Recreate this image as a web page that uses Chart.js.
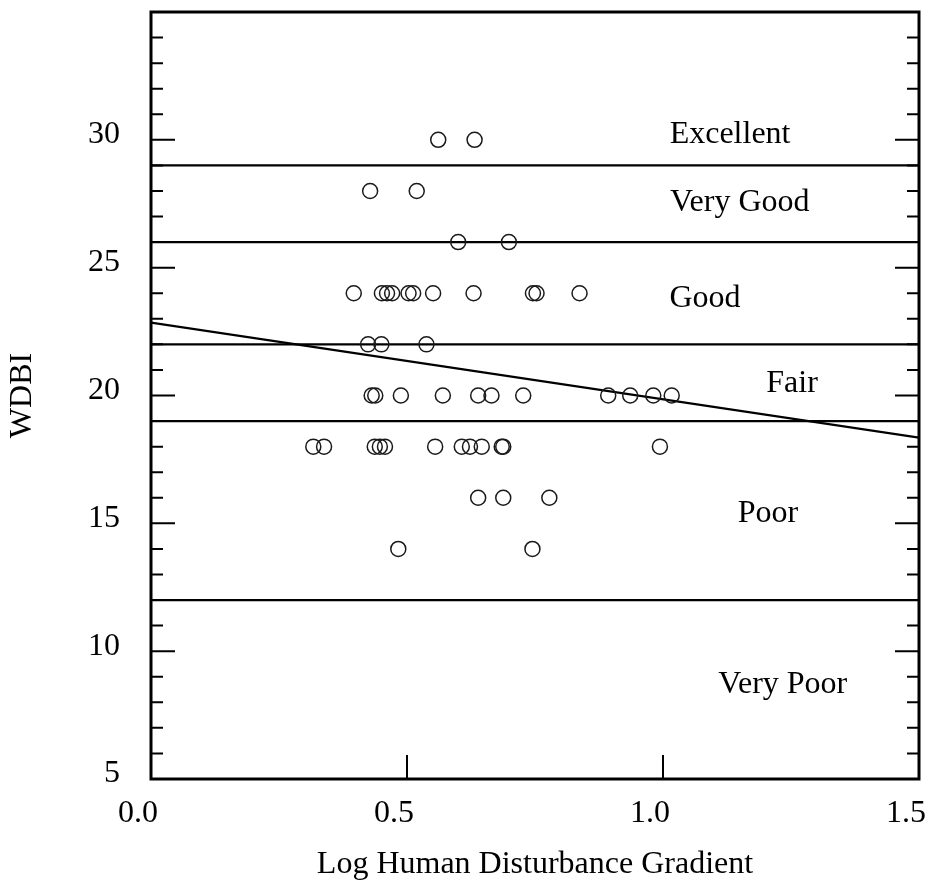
<!DOCTYPE html>
<html>
<head>
<meta charset="utf-8">
<script src="https://cdn.jsdelivr.net/npm/chart.js@4"></script>
<style>
  body { margin: 0; background: #fff; }
  .box { width: 929px; height: 884px; }
</style>
</head>
<body>
<div class="box"><canvas id="chart"></canvas></div>
<script>
// sites: log human disturbance gradient vs WDBI score
const logHdg = [
  0.561, 0.632,
  0.428, 0.519,
  0.600, 0.699,
  0.396, 0.451, 0.461, 0.471, 0.503, 0.512, 0.551, 0.630, 0.746, 0.753, 0.837,
  0.424, 0.450, 0.538,
  0.431, 0.438, 0.488, 0.570, 0.639, 0.665, 0.727, 0.893, 0.936, 0.981, 1.017,
  0.317, 0.338, 0.437, 0.447, 0.457, 0.555, 0.607, 0.623, 0.646, 0.685, 0.688, 0.994,
  0.639, 0.688, 0.778,
  0.483, 0.745
];
const wdbi = [
  30, 30,
  28, 28,
  26, 26,
  24, 24, 24, 24, 24, 24, 24, 24, 24, 24, 24,
  22, 22, 22,
  20, 20, 20, 20, 20, 20, 20, 20, 20, 20, 20,
  18, 18, 18, 18, 18, 18, 18, 18, 18, 18, 18, 18,
  16, 16, 16,
  14, 14
];

// regression line end points
const fitX = [0, 1.5];
const fitY = [22.85, 18.35];

// class boundaries and names
const bandLimits = [29, 26, 22, 19, 12];
const bandNames = ['Excellent', 'Very Good', 'Good', 'Fair', 'Poor', 'Very Poor'];

const xTickLabels = ['0.0', '0.5', '1.0', '1.5'];
const yTickLabels = ['5', '10', '15', '20', '25', '30'];

const font = { family: '"Liberation Serif", "Times New Roman", serif', size: 32 };

// where the class names sit (data coords)
const namePos = [[1.131, 30.2], [1.15, 27.55], [1.082, 23.8], [1.252, 20.45], [1.205, 15.4], [1.234, 8.7]];

const frame = {
  id: 'frame',
  afterDatasetsDraw(chart) {
    const { ctx, chartArea: a, scales: { x, y } } = chart;
    ctx.save();
    ctx.strokeStyle = '#000';
    ctx.lineWidth = 2;
    ctx.beginPath();
    for (let v = 6; v < 35; v++) {
      const py = y.getPixelForValue(v);
      const len = v % 5 === 0 ? 24 : 12;
      ctx.moveTo(a.left, py); ctx.lineTo(a.left + len, py);
      ctx.moveTo(a.right, py); ctx.lineTo(a.right - len, py);
    }
    [0.5, 1.0].forEach(v => {
      const px = x.getPixelForValue(v);
      ctx.moveTo(px, a.bottom); ctx.lineTo(px, a.bottom - 24);
    });
    ctx.stroke();
    ctx.lineWidth = 3;
    ctx.strokeRect(a.left, a.top, a.right - a.left, a.bottom - a.top);

    ctx.fillStyle = '#000';
    ctx.font = font.size + 'px ' + font.family;
    ctx.textAlign = 'center';
    ctx.textBaseline = 'middle';
    bandNames.forEach((t, i) => {
      ctx.fillText(t, x.getPixelForValue(namePos[i][0]), y.getPixelForValue(namePos[i][1]));
    });
    ctx.restore();
  }
};

const hLine = v => ({
  type: 'line',
  data: [{ x: 0, y: v }, { x: 1.5, y: v }],
  showLine: true,
  borderColor: '#000',
  borderWidth: 2.2,
  pointRadius: 0
});

new Chart(document.getElementById('chart'), {
  type: 'scatter',
  data: {
    datasets: [
      {
        data: logHdg.map((v, i) => ({ x: v, y: wdbi[i] })),
        pointStyle: 'circle',
        pointRadius: 7.5,
        borderColor: '#1a1a1a',
        borderWidth: 1.5,
        backgroundColor: 'rgba(0,0,0,0)'
      },
      {
        type: 'line',
        data: fitX.map((v, i) => ({ x: v, y: fitY[i] })),
        showLine: true,
        borderColor: '#000',
        borderWidth: 2.2,
        pointRadius: 0
      },
      ...bandLimits.map(hLine)
    ]
  },
  options: {
    responsive: true,
    maintainAspectRatio: false,
    animation: false,
    layout: { padding: { top: 12, right: 10, left: 0, bottom: 0 } },
    plugins: { legend: { display: false }, tooltip: { enabled: false } },
    scales: {
      x: {
        type: 'linear',
        min: 0,
        max: 1.5,
        grid: { display: false, drawTicks: false },
        border: { display: false },
        afterBuildTicks: s => { s.ticks = xTickLabels.map(t => ({ value: parseFloat(t) })); },
        ticks: { callback: (v, i) => xTickLabels[i], font, color: '#000', padding: 15, labelOffset: -13, maxRotation: 0 },
        title: { display: true, text: 'Log Human Disturbance Gradient', font, color: '#000', padding: 0 },
        afterFit: s => { s.height = 105; s.paddingLeft = 0; s.paddingRight = 0; }
      },
      y: {
        type: 'linear',
        min: 5,
        max: 35,
        grid: { display: false, drawTicks: false },
        border: { display: false },
        afterBuildTicks: s => { s.ticks = yTickLabels.map(t => ({ value: Number(t) })); },
        ticks: { callback: (v, i) => yTickLabels[i], font, color: '#000', padding: 31, labelOffset: -5 },
        title: { display: true, text: 'WDBI', font, color: '#000', padding: { top: 3, bottom: 0 } },
        afterFit: s => { s.width = 151; s.paddingTop = 0; s.paddingBottom = 0; }
      }
    }
  },
  plugins: [frame]
});
</script>
</body>
</html>
